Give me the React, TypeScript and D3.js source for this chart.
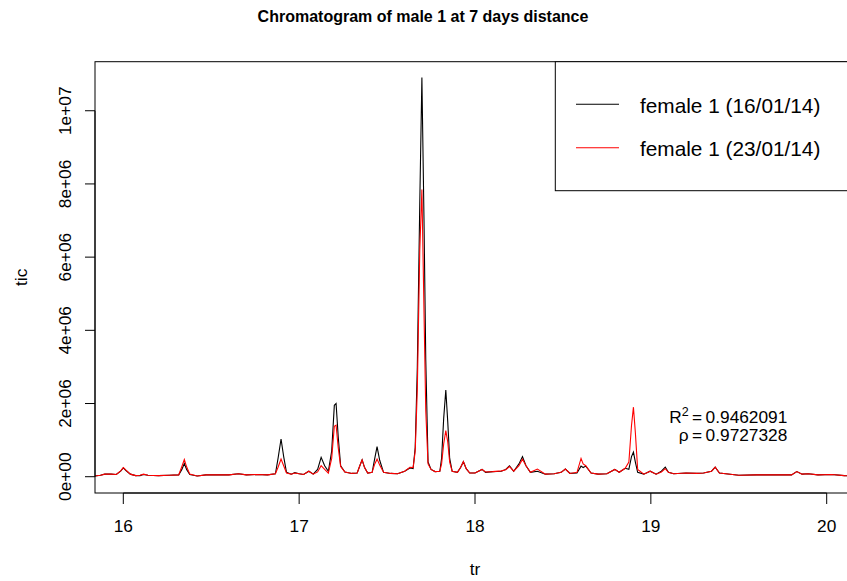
import React from "react";
import * as d3 from "d3";

// Retention time (min)
const retentionTime = [
  15.839, 15.87, 15.895, 15.93, 15.96, 15.985, 16.0, 16.015, 16.04, 16.07,
  16.095, 16.115, 16.14, 16.2, 16.26, 16.315, 16.333, 16.347, 16.36, 16.378,
  16.42, 16.47, 16.55, 16.6, 16.655, 16.7, 16.76, 16.82, 16.865, 16.88,
  16.897, 16.912, 16.928, 16.955, 16.975, 17.0, 17.025, 17.055, 17.08, 17.105,
  17.125, 17.145, 17.166, 17.185, 17.2, 17.21, 17.222, 17.236, 17.26, 17.3,
  17.33, 17.345, 17.358, 17.372, 17.39, 17.415, 17.43, 17.443, 17.458, 17.48,
  17.52, 17.56, 17.6, 17.63, 17.648, 17.66, 17.672, 17.686, 17.698, 17.71,
  17.72, 17.733, 17.75, 17.773, 17.8, 17.81, 17.822, 17.834, 17.845, 17.856,
  17.87, 17.9, 17.918, 17.934, 17.95, 17.97, 18.0, 18.04, 18.06, 18.1,
  18.15, 18.175, 18.196, 18.22, 18.25, 18.27, 18.29, 18.315, 18.355, 18.4,
  18.45, 18.49, 18.514, 18.54, 18.58, 18.603, 18.615, 18.63, 18.66, 18.7,
  18.75, 18.795, 18.82, 18.854, 18.875, 18.89, 18.901, 18.912, 18.925, 18.96,
  18.996, 19.03, 19.06, 19.082, 19.1, 19.13, 19.2, 19.26, 19.3, 19.345,
  19.366, 19.39, 19.5, 19.6, 19.7, 19.8, 19.83, 19.86, 19.895, 19.95,
  20.03, 20.1, 20.161,
];

// TIC, in millions of counts — female 1 (16/01/14)
const ticJan16 = [
  0.02, 0.04, 0.07, 0.07, 0.06, 0.15, 0.24, 0.17, 0.07, 0.03,
  0.03, 0.06, 0.04, 0.03, 0.04, 0.05, 0.2, 0.36, 0.2, 0.06,
  0.02, 0.05, 0.05, 0.05, 0.08, 0.05, 0.06, 0.05, 0.08, 0.5,
  1.03, 0.55, 0.12, 0.07, 0.11, 0.08, 0.06, 0.15, 0.07, 0.2,
  0.53, 0.3, 0.15, 0.7, 1.95, 2.0, 1.1, 0.3, 0.13, 0.09,
  0.1, 0.3, 0.46, 0.25, 0.1, 0.12, 0.5, 0.82, 0.45, 0.12,
  0.09, 0.08, 0.15, 0.24, 0.22, 0.8, 3.0, 7.5, 10.91, 7.0,
  3.2, 0.4, 0.2, 0.14, 0.15, 0.5, 1.6, 2.37, 1.5, 0.5,
  0.15, 0.12, 0.25, 0.41, 0.22, 0.1, 0.1, 0.2, 0.12, 0.14,
  0.15, 0.2, 0.3, 0.15, 0.35, 0.55, 0.3, 0.12, 0.15, 0.07,
  0.08, 0.12, 0.21, 0.09, 0.1, 0.29, 0.25, 0.29, 0.1, 0.07,
  0.08, 0.2, 0.12, 0.23, 0.2, 0.55, 0.67, 0.4, 0.12, 0.07,
  0.15, 0.07, 0.15, 0.26, 0.12, 0.08, 0.1, 0.09, 0.1, 0.15,
  0.26, 0.1, 0.04, 0.05, 0.05, 0.05, 0.14, 0.07, 0.08, 0.05,
  0.06, 0.03, 0.02,
];

// TIC, in millions of counts — female 1 (23/01/14)
const ticJan23 = [
  0.02, 0.04, 0.07, 0.07, 0.06, 0.16, 0.25, 0.18, 0.07, 0.03,
  0.04, 0.07, 0.04, 0.03, 0.04, 0.05, 0.28, 0.47, 0.27, 0.07,
  0.02, 0.05, 0.05, 0.05, 0.08, 0.05, 0.06, 0.05, 0.08, 0.26,
  0.48, 0.3, 0.1, 0.07, 0.1, 0.08, 0.06, 0.15, 0.07, 0.13,
  0.3, 0.2, 0.1, 0.5, 1.38, 1.41, 0.8, 0.28, 0.13, 0.09,
  0.1, 0.3, 0.46, 0.25, 0.1, 0.12, 0.35, 0.48, 0.32, 0.12,
  0.09, 0.08, 0.15, 0.26, 0.25, 0.7, 2.4, 6.2, 7.85, 4.5,
  1.8, 0.35, 0.2, 0.14, 0.15, 0.35, 0.9, 1.26, 0.95, 0.4,
  0.15, 0.12, 0.25, 0.41, 0.22, 0.1, 0.1, 0.2, 0.13, 0.14,
  0.16, 0.19, 0.28, 0.15, 0.3, 0.48, 0.3, 0.12, 0.21, 0.07,
  0.08, 0.12, 0.21, 0.09, 0.12, 0.5, 0.35, 0.3, 0.1, 0.07,
  0.08, 0.2, 0.12, 0.23, 0.4, 1.4, 1.9, 1.2, 0.2, 0.07,
  0.15, 0.07, 0.13, 0.22, 0.12, 0.08, 0.1, 0.09, 0.1, 0.15,
  0.26, 0.1, 0.04, 0.05, 0.05, 0.05, 0.14, 0.07, 0.08, 0.05,
  0.06, 0.03, 0.02,
];

const UNIT = 1e6;
const xTicks = [16, 17, 18, 19, 20];
const yTicks = [0, 2e6, 4e6, 6e6, 8e6, 1e7];
const yTickLabels = ["0e+00", "2e+06", "4e+06", "6e+06", "8e+06", "1e+07"];
const seriesNames = ["female 1 (16/01/14)", "female 1 (23/01/14)"];
const seriesColors = ["#000000", "#FF0000"];
const title = "Chromatogram of male 1 at 7 days distance";
const statsR2 = "0.9462091";
const statsRho = "0.9727328";

const W = 847;
const H = 581;
const plotL = 95;
const plotR = 855;
const plotT = 61.7;
const plotB = 493;
const FONT = "'Liberation Sans', Arial, Helvetica, sans-serif";
const AX = 17.3;

export default function App() {
  const x = d3.scaleLinear().domain([15.839, 20.161]).range([plotL, plotR]);
  const y = d3.scaleLinear().domain([-0.445e6, 11.34e6]).range([plotB, plotT]);
  const line = d3
    .line<number>()
    .x((_, i) => x(retentionTime[i]))
    .y((v) => y(v * UNIT));
  const series = [ticJan16, ticJan23];

  return (
    <svg
      width={W}
      height={H}
      style={{ position: "absolute", left: 0, top: 0, background: "#fff" }}
      fontFamily={FONT}
    >
      <defs>
        <clipPath id="plotclip">
          <rect x={plotL} y={plotT} width={plotR - plotL} height={plotB - plotT} />
        </clipPath>
      </defs>
      <rect x={0} y={0} width={W} height={H} fill="#fff" />
      {/* title */}
      <text x={423} y={21.7} textAnchor="middle" fontSize={16} fontWeight="bold">
        {title}
      </text>
      {/* series */}
      <g clipPath="url(#plotclip)">
        {series.map((s, k) => (
          <path key={k} d={line(s) || ""} fill="none" stroke={seriesColors[k]} strokeWidth={1.1} />
        ))}
      </g>
      {/* box */}
      <rect x={plotL} y={plotT} width={plotR - plotL} height={plotB - plotT} fill="none" stroke="#000" strokeWidth={1} />
      {/* x axis */}
      <line x1={x(xTicks[0])} x2={x(xTicks[xTicks.length - 1])} y1={plotB} y2={plotB} stroke="#000" />
      {xTicks.map((t) => (
        <g key={t}>
          <line x1={x(t)} x2={x(t)} y1={plotB} y2={plotB + 11} stroke="#000" />
          <text x={x(t)} y={532.3} textAnchor="middle" fontSize={AX}>
            {t}
          </text>
        </g>
      ))}
      {/* y axis */}
      <line x1={plotL} x2={plotL} y1={y(yTicks[0])} y2={y(yTicks[yTicks.length - 1])} stroke="#000" />
      {yTicks.map((t, i) => (
        <g key={t}>
          <line x1={plotL - 10} x2={plotL} y1={y(t)} y2={y(t)} stroke="#000" />
          <text
            transform={`translate(70.7,${y(t)}) rotate(-90)`}
            textAnchor="middle"
            fontSize={AX}
          >
            {yTickLabels[i]}
          </text>
        </g>
      ))}
      {/* axis titles */}
      <text x={475} y={575} textAnchor="middle" fontSize={AX}>
        tr
      </text>
      <text transform={`translate(27,${(plotT + plotB) / 2}) rotate(-90)`} textAnchor="middle" fontSize={AX}>
        tic
      </text>
      {/* legend */}
      <rect x={555.3} y={plotT} width={plotR - 555.3} height={190.7 - plotT} fill="#fff" stroke="#000" />
      {seriesNames.map((n, k) => {
        const ly = 104.3 + k * 43.4;
        return (
          <g key={n}>
            <line x1={576} x2={619} y1={ly} y2={ly} stroke={seriesColors[k]} strokeWidth={1.1} />
            <text x={640} y={ly + 8.2} fontSize={20.8}>
              {n}
            </text>
          </g>
        );
      })}
      {/* statistics */}
      <text x={787.3} y={423.3} textAnchor="end" fontSize={AX}>
        R<tspan dy={-7} fontSize={12.5}>2</tspan>
        <tspan dy={7}>{"\u2009=\u2009" + statsR2}</tspan>
      </text>
      <text x={787.3} y={441} textAnchor="end" fontSize={AX}>
        {"\u03C1\u2009=\u2009" + statsRho}
      </text>
    </svg>
  );
}
